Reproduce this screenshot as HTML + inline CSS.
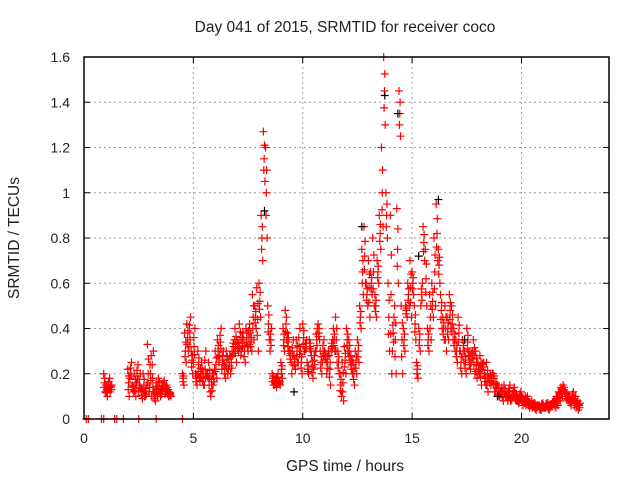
<!DOCTYPE html>
<html><head><meta charset="utf-8"><style>
body{margin:0;background:#fff}
svg{display:block;font-family:"Liberation Sans",sans-serif}
</style></head><body>
<svg id="chart" width="640" height="480" viewBox="0 0 640 480" xmlns="http://www.w3.org/2000/svg">
<rect width="640" height="480" fill="#fff"/>
<text x="345" y="32" font-size="15.5" text-anchor="middle" fill="#222">Day 041 of 2015, SRMTID for receiver coco</text>
<text transform="translate(19,238) rotate(-90)" font-size="15.5" text-anchor="middle" fill="#222">SRMTID / TECUs</text>
<text x="345" y="471" font-size="15.5" text-anchor="middle" fill="#222">GPS time / hours</text>
<g id="grid"></g><g id="marks"></g>
<rect x="84" y="57" width="525" height="362" fill="none" stroke="#000" stroke-width="1.5"/>
<g id="ticks"></g>
</svg>
<script>
const xTicks=[0,5,10,15,20];
const yTicks=[0,0.2,0.4,0.6,0.8,1,1.2,1.4,1.6];
const yTickLabels=["0","0.2","0.4","0.6","0.8","1","1.2","1.4","1.6"];
const hours=[0.9,1.0,1.1,1.2,2.0,2.1,2.2,2.3,2.4,2.5,2.6,2.7,2.8,2.9,3.0,3.1,3.2,3.3,3.4,3.5,3.6,3.7,3.8,3.9,
4.5,4.6,4.7,4.8,4.9,5.0,5.1,5.2,5.3,5.4,5.5,5.6,5.7,5.8,5.9,6.0,6.1,6.2,6.3,6.4,6.5,6.6,6.7,6.8,6.9,7.0,7.1,7.2,7.3,7.4,7.5,7.6,7.7,7.8,7.9,8.0,8.1,8.2,8.3,8.4,8.5,8.6,8.7,8.8,8.9,9.0,9.1,9.2,9.3,9.4,9.5,9.6,9.7,9.8,9.9,10.0,10.1,10.2,10.3,10.4,10.5,10.6,10.7,10.8,10.9,11.0,11.1,11.2,11.3,11.4,11.5,11.6,11.7,11.8,11.9,12.0,12.1,12.2,12.3,12.4,12.5,12.6,12.7,12.8,12.9,13.0,13.1,13.2,13.3,13.4,13.5,13.6,13.7,13.8,13.9,14.0,14.1,14.2,14.3,14.4,14.5,14.6,14.7,14.8,14.9,15.0,15.1,15.2,15.3,15.4,15.5,15.6,15.7,15.8,15.9,16.0,16.1,16.2,16.3,16.4,16.5,16.6,16.7,16.8,16.9,17.0,17.1,17.2,17.3,17.4,17.5,17.6,17.7,17.8,17.9,18.0,18.1,18.2,18.3,18.4,18.5,18.6,18.7,18.8,18.9,19.0,19.1,19.2,19.3,19.4,19.5,19.6,19.7,19.8,19.9,20.0,20.1,20.2,20.3,20.4,20.5,20.6,20.7,20.8,20.9,21.0,21.1,21.2,21.3,21.4,21.5,21.6,21.7,21.8,21.9,22.0,22.1,22.2,22.3,22.4,22.5,22.6];
const srmtidA=[0.2,0.15,0.13,0.12,0.22,0.18,0.15,0.2,0.16,0.12,0.14,0.2,0.1,0.33,0.14,0.1,0.12,0.16,0.18,0.1,0.13,0.11,0.14,0.12,
0.2,0.38,0.42,0.32,0.3,0.25,0.2,0.3,0.17,0.22,0.15,0.2,0.25,0.1,0.15,0.3,0.35,0.28,0.22,0.25,0.3,0.22,0.2,0.28,0.4,0.35,0.42,0.3,0.35,0.4,0.3,0.38,0.55,0.5,0.58,0.6,0.9,1.27,1.2,0.5,0.3,0.2,0.15,0.14,0.17,0.25,0.4,0.48,0.38,0.3,0.2,0.28,0.35,0.25,0.3,0.42,0.3,0.25,0.35,0.28,0.22,0.3,0.42,0.3,0.25,0.3,0.2,0.28,0.3,0.4,0.45,0.3,0.2,0.25,0.32,0.4,0.35,0.28,0.25,0.3,0.35,0.5,0.75,0.85,0.6,0.7,0.65,0.8,0.55,0.7,0.9,1.2,1.6,1.0,0.6,0.9,0.3,0.5,0.93,1.45,0.5,0.4,0.5,0.6,0.7,0.65,0.5,0.25,0.4,0.5,0.85,0.75,0.4,0.55,0.6,0.8,0.95,0.75,0.55,0.45,0.5,0.45,0.55,0.5,0.4,0.35,0.45,0.3,0.35,0.3,0.4,0.3,0.25,0.35,0.3,0.25,0.28,0.22,0.2,0.25,0.18,0.15,0.2,0.12,0.15,0.1,0.14,0.15,0.1,0.12,0.08,0.1,0.12,0.1,0.08,0.1,0.08,0.06,0.08,0.06,0.05,0.07,0.05,0.06,0.04,0.06,0.05,0.07,0.05,0.06,0.08,0.1,0.12,0.14,0.15,0.12,0.1,0.09,0.08,0.06,0.05,0.04];
const srmtidB=[0.12,0.1,0.18,0.15,0.1,0.25,0.12,0.1,0.24,0.2,0.09,0.1,0.15,0.12,0.28,0.3,0.08,0.1,0.12,0.15,0.17,0.15,0.1,0.1,
0.15,0.25,0.3,0.45,0.2,0.4,0.15,0.18,0.25,0.15,0.3,0.18,0.12,0.2,0.22,0.18,0.25,0.4,0.3,0.18,0.2,0.28,0.3,0.35,0.25,0.3,0.28,0.38,0.25,0.32,0.42,0.3,0.35,0.4,0.3,0.45,0.7,1.05,0.8,0.35,0.4,0.15,0.18,0.2,0.15,0.18,0.3,0.35,0.3,0.25,0.35,0.22,0.25,0.4,0.2,0.3,0.35,0.2,0.3,0.18,0.3,0.4,0.35,0.2,0.35,0.25,0.3,0.15,0.35,0.3,0.25,0.2,0.1,0.08,0.2,0.3,0.25,0.2,0.15,0.2,0.25,0.4,0.55,0.6,0.5,0.45,0.55,0.5,0.45,0.6,0.75,0.85,1.3,0.8,0.3,0.2,0.45,0.2,0.6,1.25,0.2,0.3,0.45,0.5,0.45,0.55,0.35,0.18,0.3,0.6,0.7,0.5,0.3,0.35,0.45,0.5,0.7,0.6,0.4,0.35,0.3,0.35,0.4,0.35,0.3,0.25,0.3,0.2,0.25,0.2,0.28,0.22,0.3,0.2,0.18,0.2,0.15,0.25,0.15,0.12,0.2,0.2,0.12,0.15,0.1,0.12,0.08,0.1,0.08,0.15,0.1,0.14,0.08,0.07,0.12,0.06,0.1,0.1,0.05,0.08,0.07,0.04,0.06,0.04,0.07,0.05,0.07,0.04,0.06,0.08,0.05,0.06,0.08,0.1,0.12,0.09,0.08,0.06,0.12,0.1,0.08,0.07];
const srmtidC=[0.16,0.13,0.15,0.14,0.16,0.2,0.14,0.15,0.19,0.15,0.12,0.15,0.12,0.2,0.2,0.18,0.1,0.13,0.15,0.12,0.15,0.13,0.12,0.11,
0.18,0.3,0.36,0.38,0.26,0.32,0.18,0.24,0.2,0.18,0.22,0.2,0.18,0.15,0.18,0.24,0.3,0.34,0.26,0.22,0.25,0.25,0.25,0.32,0.33,0.32,0.35,0.34,0.3,0.36,0.36,0.34,0.45,0.45,0.44,0.52,0.8,1.15,1.0,0.42,0.35,0.18,0.16,0.17,0.16,0.22,0.35,0.42,0.34,0.28,0.28,0.25,0.3,0.32,0.25,0.36,0.32,0.22,0.32,0.23,0.26,0.35,0.38,0.25,0.3,0.28,0.25,0.22,0.32,0.35,0.35,0.25,0.15,0.16,0.26,0.35,0.3,0.24,0.2,0.25,0.3,0.45,0.65,0.72,0.55,0.58,0.6,0.65,0.5,0.65,0.82,1.0,1.45,0.9,0.45,0.55,0.38,0.35,0.75,1.35,0.35,0.35,0.48,0.55,0.58,0.6,0.42,0.22,0.35,0.55,0.78,0.62,0.35,0.45,0.52,0.65,0.82,0.68,0.48,0.4,0.4,0.4,0.48,0.42,0.35,0.3,0.38,0.25,0.3,0.25,0.34,0.26,0.28,0.28,0.24,0.22,0.22,0.24,0.18,0.18,0.16,0.18,0.18,0.16,0.12,0.12,0.11,0.12,0.12,0.12,0.09,0.11,0.1,0.09,0.1,0.09,0.07,0.08,0.07,0.06,0.06,0.05,0.06,0.05,0.06,0.05,0.06,0.05,0.06,0.07,0.07,0.08,0.11,0.13,0.13,0.11,0.09,0.08,0.1,0.08,0.07,0.06];
const blackHours=[8.25,9.6,12.7,13.75,14.35,15.3,16.2,17.4,18.9];
const blackValues=[0.92,0.12,0.85,1.43,1.35,0.72,0.97,0.35,0.1];
const zeroHours=[0.1,0.2,0.8,0.9,1.4,1.5,1.8,2.5,3.3,4.5];
const zeroValues=[0,0,0,0,0,0,0,0,0,0];

const X0=84,X1=609,Y0=419,Y1=57,XMAX=24,YMAX=1.6;
const xs=v=>X0+(X1-X0)*v/XMAX;
const ys=v=>Y0-(Y0-Y1)*v/YMAX;
const NS="http://www.w3.org/2000/svg";
const grid=document.getElementById('grid'),ticks=document.getElementById('ticks'),marks=document.getElementById('marks');
function mk(tag,attrs,parent){const e=document.createElementNS(NS,tag);for(const k in attrs)e.setAttribute(k,attrs[k]);parent.appendChild(e);return e;}
yTicks.forEach((v,i)=>{
  const y=ys(v);
  if(v>0&&v<YMAX){const g=mk('line',{x1:X0,x2:X1,y1:y,y2:y,stroke:'#a0a0a0','stroke-dasharray':'2,3'},grid);
  
  }
  const t=mk('line',{x1:X0,x2:X0+6,y1:y,y2:y,stroke:'#000'},ticks);
  
  
  const t2=mk('line',{x1:X1-6,x2:X1,y1:y,y2:y,stroke:'#000'},ticks);
  
  
  const l=mk('text',{x:X0-14,y:y+5,'font-size':14,'text-anchor':'end',fill:'#222'},ticks);
  l.textContent=yTickLabels[i];
  
  
});
xTicks.forEach(v=>{
  const x=xs(v);
  if(v>0){const g=mk('line',{x1:x,x2:x,y1:Y0,y2:Y1,stroke:'#a0a0a0','stroke-dasharray':'2,3'},grid);
  
  }
  const t=mk('line',{x1:x,x2:x,y1:Y0,y2:Y0-6,stroke:'#000'},ticks);
  
  
  const t2=mk('line',{x1:x,x2:x,y1:Y1,y2:Y1+6,stroke:'#000'},ticks);
  
  
  const l=mk('text',{x:x,y:Y0+24,'font-size':14,'text-anchor':'middle',fill:'#222'},ticks);
  l.textContent=String(v);
  
  
});
function plus(h,v,color,name){
  const x=xs(h),y=ys(v);
  const p=mk('path',{d:`M${x-4},${y}H${x+4}M${x},${y-4}V${y+4}`,stroke:color,'stroke-width':1.2,fill:'none'},marks);
  
  
}
hours.forEach((h,i)=>{
  plus(h,srmtidA[i],'#f00','srmtid-point');
  plus(h+0.035,srmtidC[i],'#f00','srmtid-point');
  plus(h+0.07,srmtidB[i],'#f00','srmtid-point');
  plus(h+0.05,(srmtidA[i]+srmtidC[i])/2,'#f00','srmtid-point');
  plus(h+0.02,(srmtidB[i]+srmtidC[i])/2,'#f00','srmtid-point');
});
zeroHours.forEach((h,i)=>plus(h,zeroValues[i],'#f00','srmtid-zero-point'));
blackHours.forEach((h,i)=>plus(h,blackValues[i],'#000','srmtid-black-point'));
</script>
</body></html>
